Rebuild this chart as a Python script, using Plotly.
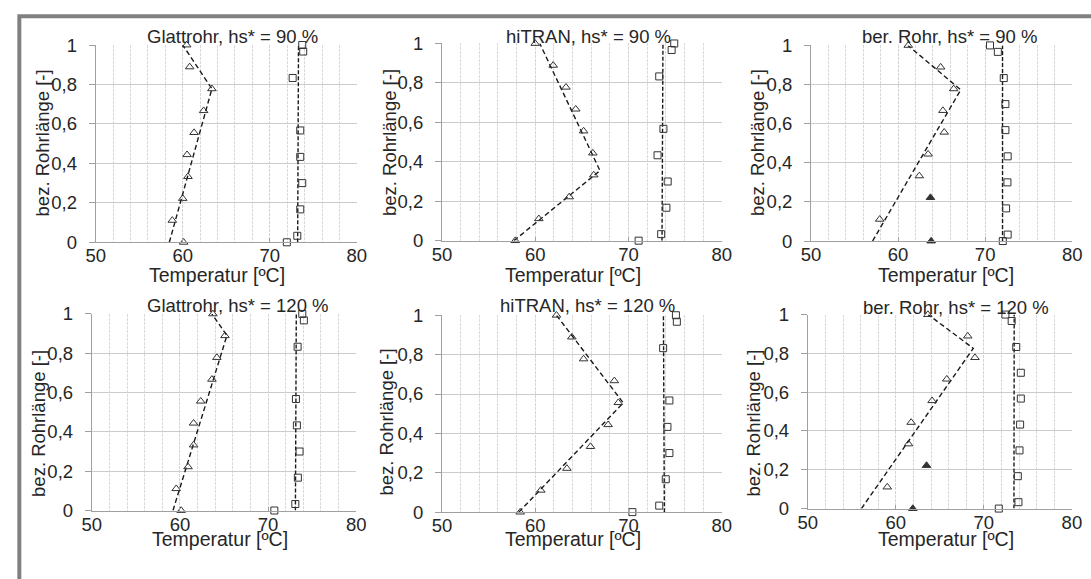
import plotly.graph_objects as go

W, H = 1091, 579

# ---------------- data ----------------
tri_y = [0, 0.111, 0.222, 0.333, 0.444, 0.556, 0.667, 0.778, 0.889, 1.0]
sq_y = [0, 0.033, 0.167, 0.3, 0.433, 0.567, 0.7, 0.833, 0.967, 1.0]

titles = ["Glattrohr, hs* = 90 %", "hiTRAN, hs* = 90 %", "ber. Rohr, hs* = 90 %",
          "Glattrohr, hs* = 120 %", "hiTRAN, hs* = 120 %", "ber. Rohr, hs* = 120 %"]
x_ticks = [50, 60, 70, 80]
y_ticks = [0, 0.2, 0.4, 0.6, 0.8, 1]
x_title = "Temperatur [ºC]"
y_title = "bez. Rohrlänge [-]"

glatt90_tri = [60.1, 58.8, 60.0, 60.6, 60.5, 61.3, 62.4, 63.35, 60.8, 60.45]
glatt90_sq = [71.96, 73.16, 73.5, 73.73, 73.5, 73.5, None, 72.63, 73.84, 73.73]
glatt90_fit_T = [58.46, 63.35, 60.0]
glatt90_fit_y = [0, 0.778, 1]
glatt90_sqfit_T = [73.2, 73.3]

hitran90_tri = [57.86, 60.39, 63.65, 66.28, 66.18, 65.19, 64.35, 63.3, 61.93, 60.0]
hitran90_sq = [71.09, 73.51, 74.07, 74.21, 73.12, 73.75, None, 73.3, 74.63, 74.91]
hitran90_fit_T = [57.72, 66.95, 60.49]
hitran90_fit_y = [0, 0.355, 1]
hitran90_sqfit_T = [73.6, 73.7]

ber90_tri = [None, 57.89, None, 62.44, 63.45, 65.3, 65.15, 66.39, 64.89, 61.17]
ber90_filled_T = [63.8, 63.72]
ber90_filled_y = [0, 0.222]
ber90_sq = [72.03, 72.59, 72.41, 72.56, 72.59, 72.33, 72.33, 72.14, 71.46, 70.56]
ber90_fit_T = [57.07, 67.2, 61.13]
ber90_fit_y = [0, 0.773, 1]
ber90_sqfit_T = [72.0, 72.0]

glatt120_tri = [60.14, 59.58, 60.92, 61.55, 61.55, 62.36, 63.63, 64.19, 65.11, 63.74]
glatt120_sq = [70.71, 73.09, 73.38, 73.57, 73.27, 73.16, None, 73.35, 74.06, 73.88]
glatt120_fit_T = [59.21, 65.33, 63.63]
glatt120_fit_y = [0, 0.89, 1]
glatt120_sqfit_T = [73.1, 73.2]

hitran120_tri = [58.39, 60.6, 63.4, 65.93, 67.82, 68.91, 68.49, 65.19, 63.93, 62.28]
hitran120_sq = [70.42, 73.3, 74.0, 74.39, 74.18, 74.39, None, 73.72, 75.19, 75.09]
hitran120_fit_T = [58.25, 69.44, 62.28]
hitran120_fit_y = [0, 0.555, 1]
hitran120_sqfit_T = [73.85, 73.75]

ber120_tri = [None, 59.03, None, 61.44, 61.74, 64.12, 65.79, 68.99, 68.17, 63.64]
ber120_filled_T = [61.93, 63.49]
ber120_filled_y = [0, 0.222]
ber120_sq = [71.7, 73.93, 73.86, 74.05, 74.12, 74.2, 74.2, 73.68, 73.16, 72.45]
ber120_fit_T = [56.09, 68.8, 63.67]
ber120_fit_y = [0, 0.826, 1]
ber120_sqfit_T = [73.42, 73.45]

sqfit_y = [0, 1]

panels = [
    (glatt90_tri, None, None, glatt90_sq, glatt90_fit_T, glatt90_fit_y, glatt90_sqfit_T),
    (hitran90_tri, None, None, hitran90_sq, hitran90_fit_T, hitran90_fit_y, hitran90_sqfit_T),
    (ber90_tri, ber90_filled_T, ber90_filled_y, ber90_sq, ber90_fit_T, ber90_fit_y, ber90_sqfit_T),
    (glatt120_tri, None, None, glatt120_sq, glatt120_fit_T, glatt120_fit_y, glatt120_sqfit_T),
    (hitran120_tri, None, None, hitran120_sq, hitran120_fit_T, hitran120_fit_y, hitran120_sqfit_T),
    (ber120_tri, ber120_filled_T, ber120_filled_y, ber120_sq, ber120_fit_T, ber120_fit_y, ber120_sqfit_T),
]

# ---------------- layout geometry (pixels) ----------------
dom_px = [
    (87.3, 353.3, 35.3, 240.0),
    (440.0, 725.0, 33.7, 238.3),
    (816.0, 1082.0, 35.7, 238.7),
    (83.3, 352.7, 314.3, 518.3),
    (440.0, 725.0, 315.7, 520.0),
    (812.7, 1081.7, 315.0, 516.3),
]
title_px = [(227, 26), (589, 26), (957, 26), (232, 306), (588, 306), (964, 308)]
xt_px = [(211, 274), (574, 274), (953, 274), (214, 548), (574, 548), (953, 548)]
yt_px = [(33, 137), (386, 136), (761, 137), (29, 428), (384, 426), (757, 428)]

FONT = "Liberation Sans, Arial, sans-serif"
TXT = "#262626"
INK = "#1a1a1a"
TICK_FS = 18.5
TITLE_FS = 18.5
XT_FS = 19.5
YT_FS = 18.5

fig = go.Figure()
layout = dict(
    width=W, height=H, margin=dict(l=0, r=0, t=0, b=0),
    paper_bgcolor="white", plot_bgcolor="white",
    showlegend=False, separators=",.",
    font=dict(family=FONT, size=TICK_FS, color=TXT),
)
annotations = []

for i, (tri, fT, fy, sq, fitT, fity, sqfitT) in enumerate(panels):
    n = i + 1
    xa = "x" if n == 1 else f"x{n}"
    ya = "y" if n == 1 else f"y{n}"
    common = dict(xaxis=xa, yaxis=ya, cliponaxis=False, hoverinfo="skip")
    fig.add_trace(go.Scatter(x=fitT, y=fity, mode="lines",
                             line=dict(color=INK, width=1.4, dash="5px,3px"), **common))
    fig.add_trace(go.Scatter(x=sqfitT, y=sqfit_y, mode="lines",
                             line=dict(color=INK, width=1.4, dash="4px,2px"), **common))
    fig.add_trace(go.Scatter(x=tri, y=tri_y, mode="markers",
                             marker=dict(symbol="triangle-up-open", size=7.5, color="#333",
                                         line=dict(width=1, color="#333")), **common))
    if fT is not None:
        fig.add_trace(go.Scatter(x=fT, y=fy, mode="markers",
                                 marker=dict(symbol="triangle-up", size=7.5, color="#333",
                                             line=dict(width=1, color="#333")), **common))
    fig.add_trace(go.Scatter(x=sq, y=sq_y, mode="markers",
                             marker=dict(symbol="square-open", size=7, color="#333",
                                         line=dict(width=1, color="#333")), **common))

    x0, x1, y0, y1 = dom_px[i]
    xkey = "xaxis" if n == 1 else f"xaxis{n}"
    ykey = "yaxis" if n == 1 else f"yaxis{n}"
    layout[xkey] = dict(
        domain=[x0 / W, x1 / W], anchor=ya, range=[50, 80],
        tickvals=x_ticks, showgrid=True, gridcolor="#d4d4d4", griddash="3px,1px", gridwidth=1,
        minor=dict(dtick=2, tick0=50, showgrid=True, gridcolor="#d9d9d9", griddash="3px,1px", gridwidth=1),
        showline=True, linecolor="#a0a0a0", linewidth=1,
        ticks="inside", ticklen=4, tickcolor="#a0a0a0", ticklabelstandoff=-3,
        zeroline=False, tickfont=dict(size=TICK_FS, color=TXT, family=FONT), fixedrange=True,
    )
    layout[ykey] = dict(
        domain=[1 - y1 / H, 1 - y0 / H], anchor=xa, range=[0, 1],
        tickvals=y_ticks, showgrid=True, gridcolor="#cccccc", gridwidth=1,
        showline=True, linecolor="#a0a0a0", linewidth=1,
        ticks="outside", ticklen=6, tickcolor="#a0a0a0", ticklabelstandoff=8,
        zeroline=False, tickfont=dict(size=TICK_FS, color=TXT, family=FONT), fixedrange=True,
    )
    tx, ty = title_px[i]
    annotations.append(dict(text=titles[i], x=tx / W, y=1 - ty / H, xref="paper", yref="paper",
                            showarrow=False, xanchor="center", yanchor="middle",
                            font=dict(size=TITLE_FS, color=TXT, family=FONT)))
    ax_, ay_ = xt_px[i]
    annotations.append(dict(text=x_title, x=ax_ / W, y=1 - ay_ / H, xref="paper", yref="paper",
                            showarrow=False, xanchor="center", yanchor="middle",
                            font=dict(size=XT_FS, color=TXT, family=FONT)))
    bx, by = yt_px[i]
    annotations.append(dict(text=y_title, x=bx / W, y=1 - by / H, xref="paper", yref="paper",
                            showarrow=False, xanchor="center", yanchor="middle", textangle=-90,
                            font=dict(size=YT_FS, color=TXT, family=FONT)))

layout["annotations"] = annotations
layout["shapes"] = [
    dict(type="rect", xref="paper", yref="paper",
         x0=9.5 / W, x1=1110 / W, y0=1 - 5.5 / H, y1=1 - 600 / H,
         line=dict(color="#808080", width=4), layer="above"),
]
fig.update_layout(**layout)
fig.write_html("out.html", config={"displayModeBar": False},
               post_script="document.body.style.margin='0';document.body.style.overflow='hidden';")
